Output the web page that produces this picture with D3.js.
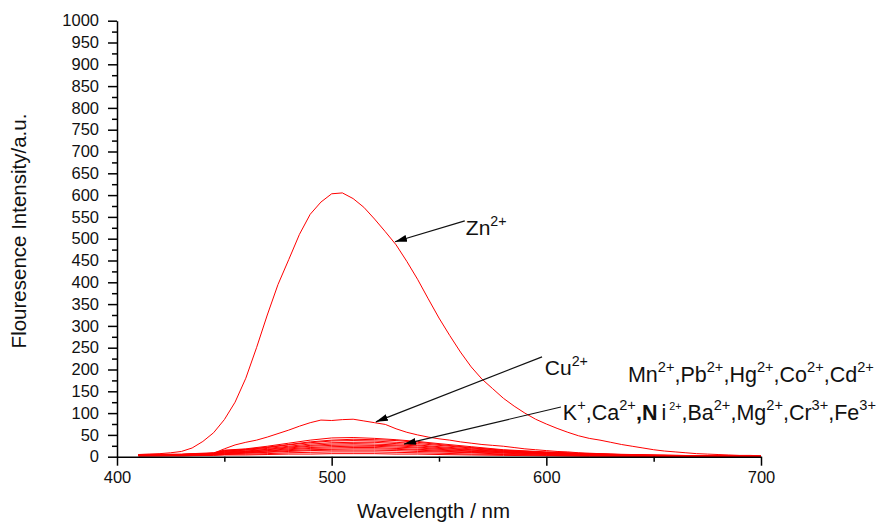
<!DOCTYPE html>
<html>
<head>
<meta charset="utf-8">
<script src="https://cdn.jsdelivr.net/npm/d3@7/dist/d3.min.js"></script>
<style>
  body { margin: 0; background: #fff; }
  svg { display: block; font-family: 'Liberation Sans', Arial, sans-serif; }
</style>
</head>
<body>
<svg></svg>
<script>
let SVG = d3.select('svg').attr('width', 880).attr('height', 523);

// --- data ---

// wavelength grid for Zn2+ and Cu2+ (nm)
const WL_FINE = [410, 415, 420, 425, 430, 435, 440, 445, 450, 455, 460, 465, 470, 475, 480, 485, 490, 495,
  500, 505, 510, 515, 520, 525, 530, 535, 540, 545, 550, 555, 560, 565, 570, 575, 580, 585, 590, 595,
  600, 605, 610, 615, 620, 625, 630, 635, 640, 645, 650, 655, 660, 665, 670, 675, 680, 685, 690, 695, 700];

const ZN = [5, 6, 7, 9, 12, 20, 35, 55, 85, 125, 180, 250, 325, 395, 452, 510, 556, 584,
  603, 605, 592, 572, 545, 516, 486, 448, 407, 362, 318, 278, 240, 206, 178, 156, 134, 116, 100, 86,
  75, 65, 56, 48, 42, 38, 33, 28, 24, 20, 16, 13, 11, 9, 7, 6, 5, 4, 3, 3, 2];

const CU = [4, 4, 5, 5, 5, 6, 6, 8, 18, 27, 33, 38, 45, 53, 61, 70, 78, 84,
  83, 85, 86, 82, 78, 74, 64, 56, 50, 45, 41, 38, 34, 31, 28, 26, 24, 21, 18, 16,
  14, 12, 11, 9, 8, 7, 6, 5, 4, 4, 3, 3, 2, 2, 2, 1, 1, 1, 1, 1, 1];

// wavelength grid for the weak responders (nm)
const WL_LOW = [410, 430, 445, 450, 460, 470, 480, 490, 500, 510, 520, 530, 540, 550, 565, 580, 600, 620, 640, 660, 680, 700];

const MN = [5, 6, 9, 15, 18, 24, 31, 38, 43, 44, 42, 39, 35, 30, 23, 16, 11, 7, 5, 3, 2, 1];
const PB = [4, 5, 8, 14, 17, 22, 28, 34, 38, 40, 39, 37, 33, 28, 21, 15, 10, 7, 4, 3, 2, 1];
const HG = [4, 5, 8, 13, 16, 21, 27, 32, 36, 37, 36, 33, 30, 26, 20, 14, 9, 6, 4, 3, 2, 1];
const CO = [4, 5, 7, 12, 15, 19, 24, 29, 32, 33, 33, 30, 27, 23, 18, 13, 9, 6, 4, 2, 1, 1];
const CD = [3, 4, 7, 11, 13, 17, 22, 26, 29, 30, 29, 27, 25, 21, 16, 12, 8, 5, 3, 2, 1, 1];
const K = [3, 4, 6, 10, 12, 16, 20, 24, 26, 27, 26, 25, 22, 19, 15, 11, 7, 5, 3, 2, 1, 0];
const CA = [3, 4, 6, 9, 11, 14, 18, 21, 23, 24, 24, 22, 20, 17, 13, 10, 7, 4, 3, 2, 1, 0];
const NI = [3, 3, 5, 8, 10, 13, 16, 19, 20, 21, 21, 19, 17, 15, 12, 9, 6, 4, 2, 1, 1, 0];
const BA = [2, 3, 5, 7, 9, 11, 14, 16, 17, 18, 18, 17, 15, 13, 10, 8, 5, 3, 2, 1, 1, 0];
const MG = [2, 3, 4, 6, 8, 10, 12, 14, 15, 15, 15, 14, 12, 11, 9, 6, 4, 3, 2, 1, 0, 0];
const CR = [2, 2, 4, 5, 6, 7, 9, 10, 11, 11, 11, 10, 9, 8, 6, 5, 3, 2, 1, 1, 0, 0];
const FE = [2, 2, 3, 4, 4, 5, 6, 6, 7, 7, 7, 6, 6, 5, 4, 3, 2, 1, 1, 0, 0, 0];

const X_TICKS = [400, 500, 600, 700];
const X_MINOR = [450, 550, 650];
const Y_TICKS = [0, 50, 100, 150, 200, 250, 300, 350, 400, 450, 500, 550, 600, 650, 700, 750, 800, 850, 900, 950, 1000];
const Y_MINOR = [25, 75, 125, 175, 225, 275, 325, 375, 425, 475, 525, 575, 625, 675, 725, 775, 825, 875, 925, 975];

// --- scales ---
const x = d3.scaleLinear().domain([400, 700]).range([117, 761]);
const y = d3.scaleLinear().domain([0, 1000]).range([456.7, 20.7]);

// --- curves ---
const line = d3.line().x(d => x(d[0])).y(d => y(d[1]));
const zip = (wl, v) => wl.map((w, i) => [w, v[i]]);

let curvesG = SVG.append('g').attr('id', 'curves');
const lowSeries = [MN, PB, HG, CO, CD, K, CA, NI, BA, MG, CR, FE];
lowSeries.forEach(v => {
  curvesG.append('path').attr('d', line(zip(WL_LOW, v)))
    .attr('fill', 'none').attr('stroke', '#ff0000').attr('stroke-width', 1);
});
[CU, ZN].forEach(v => {
  curvesG.append('path').attr('d', line(zip(WL_FINE, v)))
    .attr('fill', 'none').attr('stroke', '#ff0000').attr('stroke-width', 1);
});

// --- axes ---
let xAxisG = SVG.append('g').attr('transform', `translate(0,${y(0)})`);
xAxisG.call(d3.axisBottom(x).tickValues(X_TICKS).tickFormat(d3.format('d'))
  .tickSize(9).tickSizeOuter(0).tickPadding(6));
let xMinorG = SVG.append('g').attr('transform', `translate(0,${y(0)})`);
xMinorG.call(d3.axisBottom(x).tickValues(X_MINOR).tickSize(5).tickFormat(''));
xMinorG.select('.domain').remove();

let yAxisG = SVG.append('g').attr('transform', `translate(${x(400)},0)`);
yAxisG.call(d3.axisLeft(y).tickValues(Y_TICKS).tickFormat(d3.format('d'))
  .tickSize(9).tickSizeOuter(0).tickPadding(9));
let yMinorG = SVG.append('g').attr('transform', `translate(${x(400)},0)`);
yMinorG.call(d3.axisLeft(y).tickValues(Y_MINOR).tickSize(5).tickFormat(''));
yMinorG.select('.domain').remove();

SVG.selectAll('.domain, .tick line').attr('stroke', '#000').attr('stroke-width', 1.5);
SVG.selectAll('.tick text').attr('font-family', "'Liberation Sans', Arial, sans-serif")
  .attr('font-size', 16.5).attr('fill', '#111');

// axis titles
SVG.append('text')
  .attr('x', 433.5).attr('y', 518)
  .attr('text-anchor', 'middle').attr('font-size', 20.5).attr('fill', '#111')
  .text('Wavelength / nm');

SVG.append('text')
  .attr('transform', `translate(26,231) rotate(-90)`)
  .attr('text-anchor', 'middle').attr('font-size', 20.5).attr('fill', '#111')
  .text('Flouresence Intensity/a.u.');

// --- annotations ---
SVG.append('defs').append('marker')
  .attr('id', 'arrow').attr('markerUnits', 'userSpaceOnUse')
  .attr('markerWidth', 13).attr('markerHeight', 8)
  .attr('refX', 12).attr('refY', 4).attr('orient', 'auto')
  .append('path').attr('d', 'M0,0.5 L12,4 L0,7.5 Z').attr('fill', '#000');

function arrow(fromWl, fromI, toWl, toI) {
  SVG.append('line')
    .attr('x1', x(fromWl)).attr('y1', y(fromI))
    .attr('x2', x(toWl)).attr('y2', y(toI))
    .attr('stroke', '#111').attr('stroke-width', 1.2)
    .attr('marker-end', 'url(#arrow)');
}

// parts: [text, kind] where kind is '' (normal), 'sup', 'bold', 'i' or 'tiny'
function label(wl, val, parts, size) {
  let t = SVG.append('text').attr('x', x(wl)).attr('y', y(val))
    .attr('font-size', size).attr('fill', '#111');
  let raised = false;
  parts.forEach(([s, kind]) => {
    let ts = t.append('tspan').text(s);
    const up = kind === 'sup' || kind === 'tiny';
    if (up && !raised) ts.attr('dy', -size * 0.45);
    if (!up && raised) ts.attr('dy', size * 0.45);
    raised = up;
    if (kind === 'sup') ts.attr('font-size', size * 0.68);
    if (kind === 'tiny') ts.attr('font-size', size * 0.5).attr('dx', 3);
    if (kind === 'bold') ts.attr('font-weight', 'bold');
    if (kind === 'i') ts.attr('dx', 4);
  });
}

arrow(562, 541, 529.5, 493);
label(562.5, 508, [['Zn', ''], ['2+', 'sup']], 21);

arrow(598, 229, 520.6, 80);
label(599.3, 187, [['Cu', ''], ['2+', 'sup']], 21);

label(638, 171, [['Mn', ''], ['2+', 'sup'], [',Pb', ''], ['2+', 'sup'], [',Hg', ''], ['2+', 'sup'],
  [',Co', ''], ['2+', 'sup'], [',Cd', ''], ['2+', 'sup']], 21.5);

arrow(606.8, 114, 533.7, 29);
label(607.7, 84, [['K', ''], ['+', 'sup'], [',Ca', ''], ['2+', 'sup'], [',', 'bold'], ['N', 'bold'], ['i', 'i'],
  ['2+', 'tiny'], [',Ba', ''], ['2+', 'sup'], [',Mg', ''], ['2+', 'sup'], [',Cr', ''], ['3+', 'sup'],
  [',Fe', ''], ['3+', 'sup']], 21.5);
</script>
</body>
</html>
